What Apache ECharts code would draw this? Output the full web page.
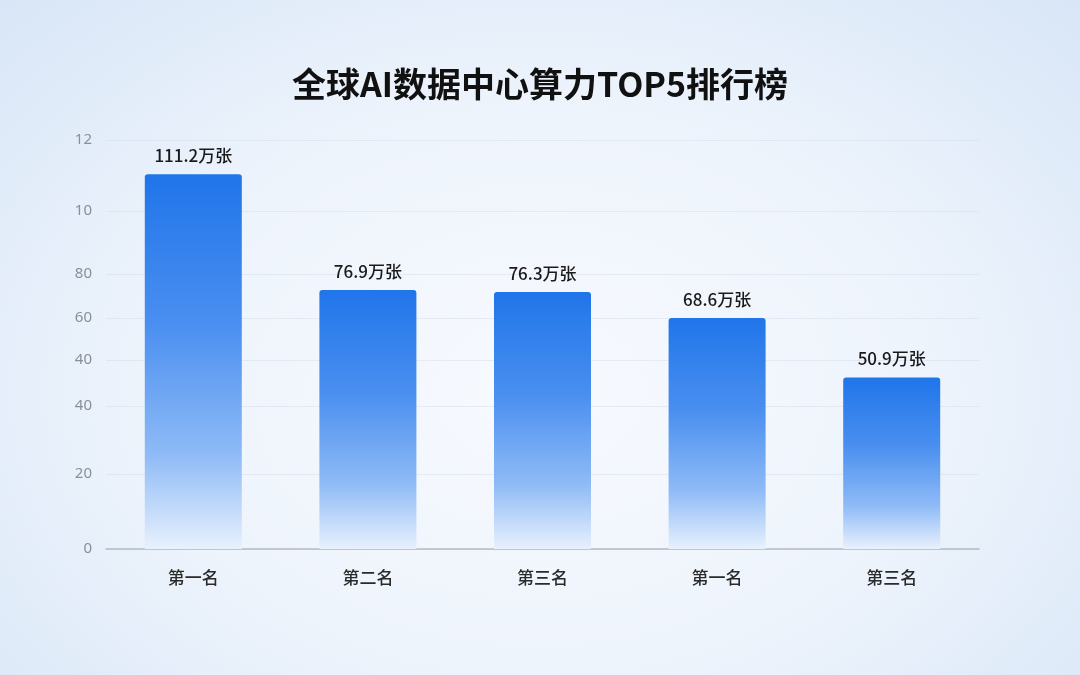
<!DOCTYPE html>
<html>
<head>
<meta charset="utf-8">
<script src="https://cdn.jsdelivr.net/npm/echarts@6/dist/echarts.min.js"></script>
<style>
  html, body { margin: 0; padding: 0; }
  #chart {
    width: 1080px; height: 675px;
    background: radial-gradient(ellipse at 50% 58%, #f7faff 0%, #eef4fc 50%, #d8e6f7 100%);
  }
</style>
</head>
<body>
<div id="chart"></div>
<script>
  // 数据（万张）
  var categories = ['第一名', '第二名', '第三名', '第一名', '第三名'];
  var values = [111.2, 76.9, 76.3, 68.6, 50.9];
  // y轴刻度（原图刻度不规则）
  var tickValues = [0, 22.3, 42.4, 56.1, 68.5, 81.6, 100.3, 121.4];
  var tickLabels = ['0', '20', '40', '40', '60', '80', '10', '12'];

  var myChart = echarts.init(document.getElementById('chart'), null, {renderer: 'canvas'});
  myChart.setOption({
    backgroundColor: 'transparent',
    title: {
      text: '全球AI数据中心算力TOP5排行榜',
      left: 'center',
      top: 62,
      textStyle: {
        fontFamily: 'Noto Sans CJK SC',
        fontSize: 34,
        fontWeight: 'bold',
        color: '#111'
      }
    },
    grid: {left: 106, right: 101, top: 140, bottom: 126, containLabel: false},
    xAxis: {
      type: 'category',
      data: categories,
      axisLine: {lineStyle: {color: '#b4bac4', width: 1.5}},
      axisTick: {show: false},
      axisLabel: {
        margin: 20,
        fontFamily: 'Noto Sans CJK SC',
        fontSize: 17,
        fontWeight: 500,
        color: '#2a2a2a'
      }
    },
    yAxis: {
      type: 'value',
      min: 0,
      max: 121.4,
      axisLine: {show: false},
      axisTick: {show: false, customValues: tickValues},
      axisLabel: {
        customValues: tickValues,
        margin: 14,
        fontFamily: 'Noto Sans',
        fontSize: 15,
        color: '#8a8f98',
        formatter: function (v) {
          var i = tickValues.indexOf(v);
          return i >= 0 ? tickLabels[i] : '';
        }
      },
      splitLine: {show: true, lineStyle: {color: 'rgba(200,210,225,0.35)', width: 1}}
    },
    series: [{
      type: 'bar',
      data: values,
      barWidth: 97,
      itemStyle: {
        borderRadius: [3, 3, 0, 0],
        color: new echarts.graphic.LinearGradient(0, 0, 0, 1, [
          {offset: 0, color: '#2075ea'},
          {offset: 0.4, color: '#4a8ff0'},
          {offset: 0.75, color: '#8fbbf6'},
          {offset: 1, color: '#e8f1fd'}
        ])
      },
      label: {
        show: true,
        position: 'top',
        distance: 10,
        fontFamily: 'Noto Sans CJK SC',
        fontSize: 17,
        fontWeight: 500,
        color: '#1a1a1a',
        formatter: function (p) { return p.value + '万张'; }
      }
    }]
  });
</script>
</body>
</html>
